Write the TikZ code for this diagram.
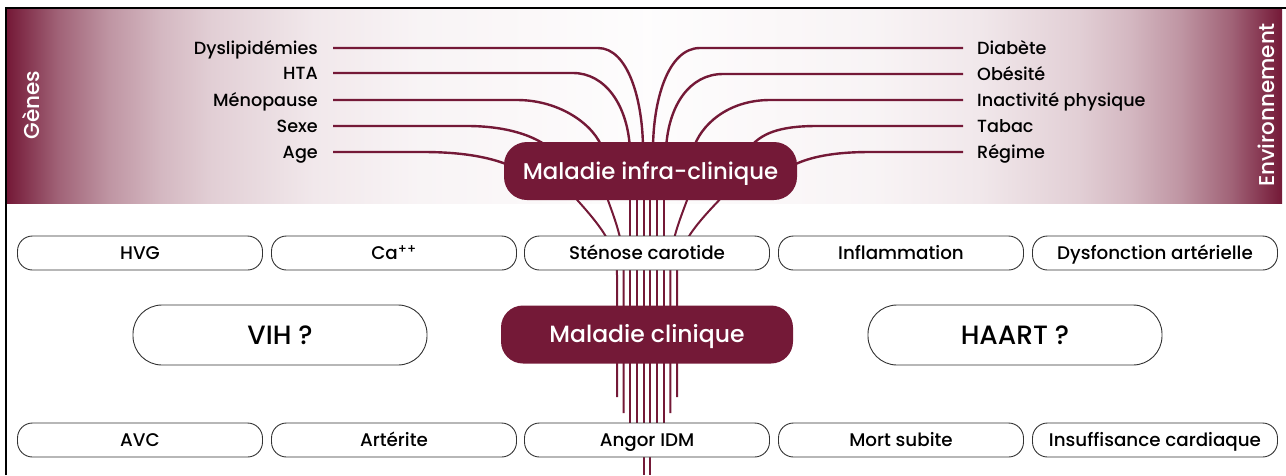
\documentclass[tikz,border=0pt]{standalone}
\usepackage{fontspec}
\setmainfont{Poppins}[UprightFont={* Medium}]
\definecolor{bordeaux}{RGB}{116,25,55}
\pgfdeclarelayer{bg}
\pgfsetlayers{bg,main}
% fond degrade des deux bandes laterales
\pgfdeclarehorizontalshading{fadeleft}{100bp}{color(0bp)=(bordeaux); color(25bp)=(bordeaux);
  color(29bp)=(bordeaux!68); color(33bp)=(bordeaux!46); color(37bp)=(bordeaux!31);
  color(41bp)=(bordeaux!21); color(49bp)=(bordeaux!10); color(57bp)=(bordeaux!5);
  color(75bp)=(bordeaux!1); color(100bp)=(bordeaux!1)}
\pgfdeclarehorizontalshading{faderight}{100bp}{color(0bp)=(bordeaux!1); color(25bp)=(bordeaux!1);
  color(43bp)=(bordeaux!5); color(51bp)=(bordeaux!10); color(59bp)=(bordeaux!21);
  color(63bp)=(bordeaux!31); color(67bp)=(bordeaux!46); color(71bp)=(bordeaux!68);
  color(75bp)=(bordeaux); color(100bp)=(bordeaux)}
\begin{document}
\begin{tikzpicture}[x=1pt,y=-1pt]
  \useasboundingbox (0,0) rectangle (1286,475);
  \tikzstyle{facteur}=[inner sep=0pt, text height=12.5pt, text depth=0pt, font=\fontsize{17.6}{20}\selectfont]
  \tikzstyle{cote}=[rotate=90, text=white, inner sep=0pt, font=\fontsize{21.5}{24}\selectfont]
  \tikzstyle{etape}=[draw=black!80, line width=0.9pt, fill=white, rounded corners=15pt, minimum width=245pt, minimum height=34pt, inner sep=0pt, text height=12.8pt, text depth=0pt, font=\fontsize{18.3}{21}\selectfont]
  \tikzstyle{question}=[draw=black!80, line width=0.9pt, fill=white, rounded corners=29pt, minimum width=294pt, minimum height=60pt, inner sep=0pt, text height=18pt, text depth=0pt, font=\fontsize{26.5}{30}\selectfont]
  \tikzstyle{maladie}=[fill=bordeaux, text=white, rounded corners=23pt, minimum width=293pt, minimum height=58pt, inner sep=0pt, text height=16pt, text depth=0pt, font=\fontsize{22.8}{26}\selectfont]
  \tikzstyle{fil}=[draw=bordeaux, line width=2.4pt]
  \tikzstyle{faisceau}=[draw=bordeaux, line width=2pt]

  \draw[line width=1.3pt] (6,475) -- (6,8) -- (1286,8);

  \node[cote] (genes) at (31,105) {Gènes};
  \node[cote] (env) at (1266,105) {Environnement};

  \node[facteur, anchor=east] (dys) at (318,48)  {Dyslipidémies};
  \node[facteur, anchor=east] (hta) at (318,73)  {HTA};
  \node[facteur, anchor=east] (meno) at (318,100) {Ménopause};
  \node[facteur, anchor=east] (sexe) at (318,126) {Sexe};
  \node[facteur, anchor=east] (age) at (318,152) {Age};

  \node[facteur, anchor=west] (diab) at (977,48)  {Diabète};
  \node[facteur, anchor=west] (obes) at (977,74)  {Obésité};
  \node[facteur, anchor=west] (inact) at (977,100) {Inactivité physique};
  \node[facteur, anchor=west] (tabac) at (977,126) {Tabac};
  \node[facteur, anchor=west] (regime) at (977,152) {Régime};

  \node[maladie] (infra) at (650.5,171) {Maladie infra-clinique};
  \node[maladie, rounded corners=22pt, minimum width=292pt, font=\fontsize{23.5}{27}\selectfont] (clin) at (647,334.5) {Maladie clinique};

  \node[etape] (hvg) at (140,253)  {HVG};
  \node[etape] (ca) at (394,253)   {Ca\textsuperscript{++}};
  \node[etape] (steno) at (647,253) {Sténose carotide};
  \node[etape] (inflam) at (901,253) {Inflammation};
  \node[etape] (dysf) at (1155,253) {Dysfonction artérielle};

  \node[question] (vih) at (280,335)  {VIH ?};
  \node[question] (haart) at (1015,335) {HAART ?};

  \node[etape] (avc) at (140,440)  {AVC};
  \node[etape] (arter) at (394,440) {Artérite};
  \node[etape] (angor) at (647,440) {Angor IDM};
  \node[etape] (mort) at (901,440) {Mort subite};
  \node[etape] (insuf) at (1155,440) {Insuffisance cardiaque};

  \begin{pgfonlayer}{bg}
    \shade[shading=fadeleft] (7,9) rectangle (647,203);
    \shade[shading=faderight] (647,9) rectangle (1282,203);

    \path[fil] ([xshift=15pt]dys.east) -- (598,48) .. controls (628,48) and (643,100) .. (643,150);
    \path[fil] ([xshift=15pt]hta.east) -- (573,73) .. controls (605,73) and (628,105) .. (630,150);
    \path[fil] ([xshift=15pt]meno.east) -- (517,100) .. controls (560,100) and (595,125) .. (603,150);
    \path[fil] ([xshift=15pt]sexe.east) -- (467,126) .. controls (505,126) and (535,135) .. (552,150);
    \path[fil] ([xshift=15pt]age.east) -- (423,152) .. controls (465,152) and (495,158) .. (515,168);

    \path[fil] ([xshift=-14pt]diab.west) -- (700,48) .. controls (668,48) and (653,100) .. (653,150);
    \path[fil] ([xshift=-14pt]obes.west) -- (723,74) .. controls (690,74) and (668,105) .. (666,150);
    \path[fil] ([xshift=-14pt]inact.west) -- (770,100) .. controls (728,100) and (700,125) .. (693,150);
    \path[fil] ([xshift=-14pt]tabac.west) -- (817,126) .. controls (780,126) and (760,133) .. (748,150);
    \path[fil] ([xshift=-14pt]regime.west) -- (870,152) .. controls (830,152) and (805,158) .. (788,168);

    % faisceau vers la maladie clinique
    \path[faisceau] (570,192) .. controls (600,225) and (617,245) .. (617,275) -- (617,397);
    \path[faisceau] (605,192) .. controls (615,220) and (623.7,240) .. (623.7,270) -- (623.7,413);
    \path[faisceau] (630.3,192) -- (630.3,430);
    \path[faisceau] (637,192) -- (637,430);
    \path[faisceau] (643.7,192) -- (643.7,475);
    \path[faisceau] (650.3,192) -- (650.3,475);
    \path[faisceau] (657,192) -- (657,430);
    \path[faisceau] (663.7,192) -- (663.7,430);
    \path[faisceau] (690,192) .. controls (680,220) and (670.3,240) .. (670.3,270) -- (670.3,413);
    \path[faisceau] (727,192) .. controls (695,225) and (677,245) .. (677,275) -- (677,397);
  \end{pgfonlayer}
\end{tikzpicture}
\end{document}
